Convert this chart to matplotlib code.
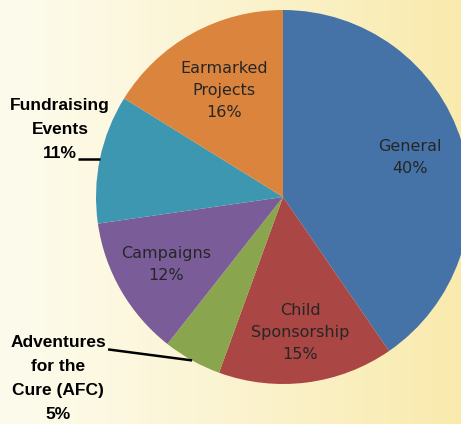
import numpy as np
import matplotlib
matplotlib.use("Agg")
import matplotlib.pyplot as plt

# ---- data ----
categories = ["General", "Child\nSponsorship", "Adventures\nfor the\nCure (AFC)", "Campaigns",
              "Fundraising\nEvents", "Earmarked\nProjects"]
values = [40, 15, 5, 12, 11, 16]
pct_labels = ["40%", "15%", "5%", "12%", "11%", "16%"]
colors = ["#4572A7", "#AA4643", "#89A54E", "#7A5C99", "#3D97B0", "#DB843D"]
inside = [True, True, False, True, False, True]

W, H = 461, 424
fig = plt.figure(figsize=(W / 100, H / 100), dpi=100)

# background gradient
bg = fig.add_axes([0, 0, 1, 1])
bg.set_axis_off()
left = np.array([253, 251, 236]) / 255.0
right = np.array([249, 234, 172]) / 255.0
t = np.linspace(0, 1, 256) ** 1.2
grad = (left[None, :] * (1 - t[:, None]) + right[None, :] * t[:, None])[None, :, :]
bg.imshow(grad, aspect="auto", extent=[0, 1, 0, 1])
bg.set_xlim(0, 1)
bg.set_ylim(0, 1)

ax = fig.add_axes([0, 0, 1, 1])
ax.patch.set_alpha(0)
cx, cy, R = 283, 227, 187
wedges, _ = ax.pie(values, colors=colors, startangle=90, counterclock=False,
                   center=(cx, cy), radius=R, wedgeprops=dict(linewidth=0))
ax.set_xlim(0, W)
ax.set_ylim(0, H)
ax.set_axis_off()

# inside label distances (fraction of radius)
dist = [0.71, 0.73, 0.0, 0.72, 0.0, 0.65]
# outside label offsets relative to wedge edge point: (text dx, dy), (leader dx, dy)
out_text = {2: (-134, -18), 4: (-40, 29)}
out_lead = {2: (-84, 11), 4: (-22, 0)}

for i, w in enumerate(wedges):
    mid = np.deg2rad((w.theta1 + w.theta2) / 2)
    label = categories[i] + "\n" + pct_labels[i]
    if inside[i]:
        x = cx + dist[i] * R * np.cos(mid)
        y = cy + dist[i] * R * np.sin(mid)
        ax.text(x, y, label, ha="center", va="center", fontsize=11.5,
                color="#262626", family="DejaVu Sans", linespacing=1.6)
    else:
        ex = cx + R * np.cos(mid)
        ey = cy + R * np.sin(mid)
        lx, ly = out_lead[i]
        ax.plot([ex + lx, ex], [ey + ly, ey], color="black", lw=1.8,
                solid_capstyle="butt", zorder=5, clip_on=False)
        tx, ty = out_text[i]
        ax.text(ex + tx, ey + ty, label, ha="center", va="center", fontsize=12.5,
                fontweight="bold", family="Liberation Sans", color="black",
                linespacing=1.75)

fig.savefig("out.png", dpi=100)
